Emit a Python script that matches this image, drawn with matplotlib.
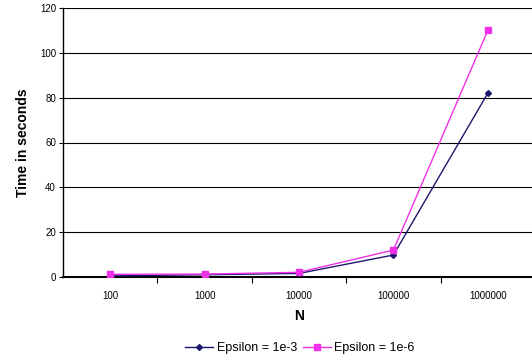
import matplotlib
matplotlib.use("Agg")
import matplotlib.pyplot as plt
import numpy as np

plt.rcParams['font.family'] = ['Liberation Sans', 'DejaVu Sans']

# run times for each problem size
sizes = ["100", "1000", "10000", "100000", "1000000"]
time_eps_1e3 = [0.5, 1.0, 1.6, 9.8, 82]
time_eps_1e6 = [1.2, 1.3, 2.1, 12, 110]

fig = plt.figure(figsize=(5.32, 3.62), dpi=100)
W, H = 532, 362
left, right, top, bottom = 63, 535, 8, 277
ax = fig.add_axes([left / W, 1 - bottom / H, (right - left) / W, (bottom - top) / H])

x = np.arange(len(sizes))
ax.plot(x, time_eps_1e3, color='#1c1870', marker='D', markersize=3,
        linewidth=1, label='Epsilon = 1e-3', zorder=3)
ax.plot(x, time_eps_1e6, color='#f030e8', marker='s', markersize=4,
        linewidth=1, label='Epsilon = 1e-6', zorder=3)

ax.set_xlim(-0.5, len(sizes) - 0.5)
ax.set_ylim(0, 120)
ax.set_yticks(np.arange(0, 121, 20))
ax.set_xticks(x)
ax.set_xticklabels(sizes)
ax.set_xticks(np.arange(0.5, len(sizes) - 0.5, 1), minor=True)
ax.tick_params(axis='x', which='major', length=0, labelsize=7, pad=10)
ax.tick_params(axis='x', which='minor', length=4, width=0.8, direction='out')
ax.tick_params(axis='y', length=3, width=0.8, labelsize=7, pad=2)

ax.yaxis.grid(True, color='black', linewidth=0.8)
ax.set_axisbelow(True)
for side in ['top', 'right']:
    ax.spines[side].set_visible(False)
ax.spines['left'].set_linewidth(1)
ax.spines['bottom'].set_linewidth(1.5)

ax.set_ylabel('Time in seconds', fontsize=10, fontweight='bold', labelpad=7)
ax.set_xlabel('N', fontsize=10, fontweight='bold', labelpad=6)

fig.legend(loc='center', bbox_to_anchor=(300 / W, 1 - 348 / H), ncol=2,
           fontsize=9, frameon=False, handlelength=2.2, columnspacing=0.5,
           handletextpad=0.3)

fig.savefig('out.png', dpi=100)
